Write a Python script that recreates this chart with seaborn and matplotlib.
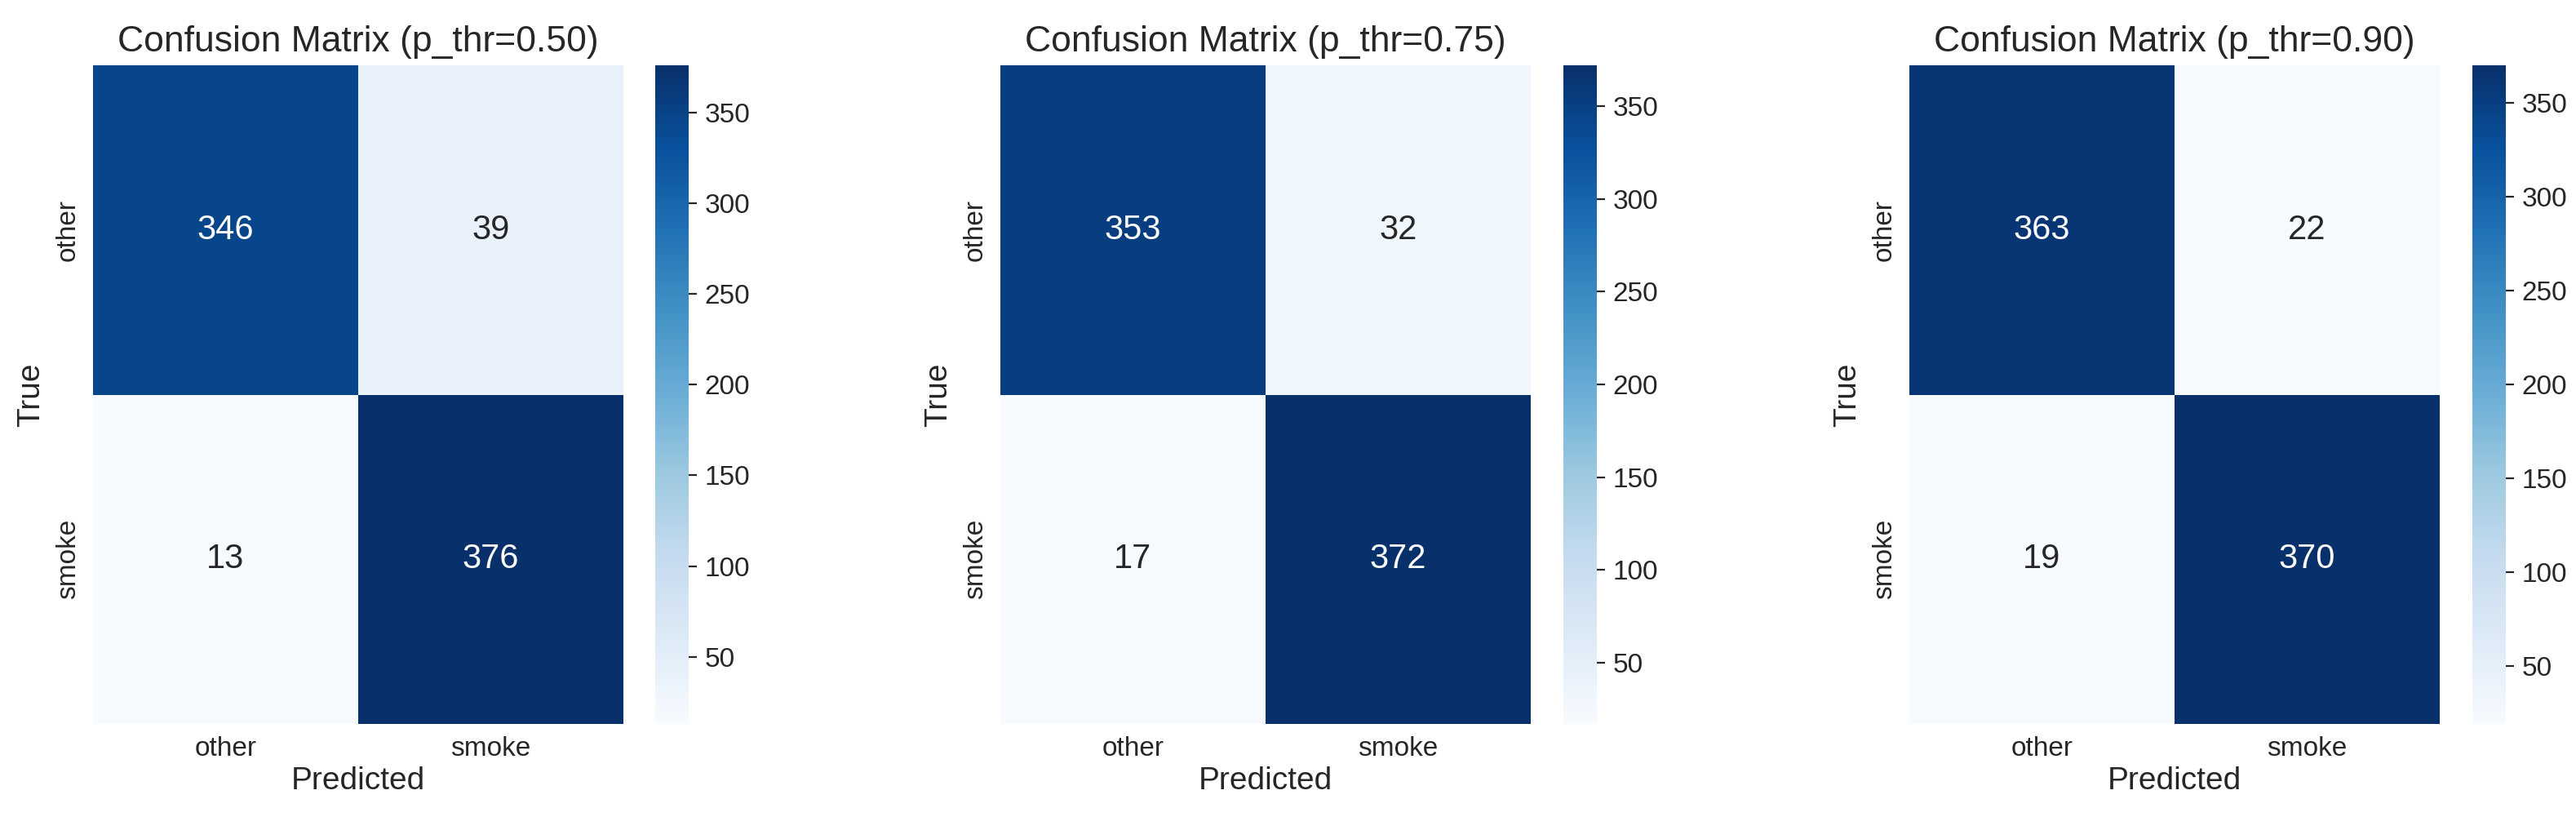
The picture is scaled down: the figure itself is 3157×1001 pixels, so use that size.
import numpy as np
import pandas as pd
import matplotlib
matplotlib.use('Agg')
import matplotlib.pyplot as plt
import seaborn as sns

# class names and the three confusion matrices (rows = true, cols = predicted)
labels = ['other', 'smoke']
thresholds = [0.50, 0.75, 0.90]
cm_050 = [[346, 39], [13, 376]]
cm_075 = [[353, 32], [17, 372]]
cm_090 = [[363, 22], [19, 370]]

sns.set_style('whitegrid')
plt.rcParams['font.family'] = ['Liberation Sans', 'DejaVu Sans']

W, H = 3157, 1001
fig = plt.figure(figsize=(W / 200, H / 200), dpi=200)

# pixel layout of each panel: heatmap left edge, colorbar left edge
panel_left = [114, 1226, 2340]
cbar_left = [803, 1916, 3030]
hm_w, cb_w = 650, 41
bottom, height = 114, 807

for i, (thr, cm) in enumerate(zip(thresholds, [cm_050, cm_075, cm_090])):
    ax = fig.add_axes([panel_left[i] / W, bottom / H, hm_w / W, height / H])
    cax = fig.add_axes([cbar_left[i] / W, bottom / H, cb_w / W, height / H])
    df = pd.DataFrame(cm, index=labels, columns=labels)
    sns.heatmap(df, annot=True, fmt='d', cmap='Blues', ax=ax, cbar_ax=cax,
                annot_kws={'size': 15})
    ax.set_title('Confusion Matrix (p_thr={:.2f})'.format(thr), fontsize=16)
    ax.set_xlabel('Predicted', fontsize=14, labelpad=2)
    ax.set_ylabel('True', fontsize=14, labelpad=4)
    ax.tick_params(labelsize=12, pad=2)
    cax.tick_params(labelsize=12)

plt.savefig('out.png', dpi=200)
